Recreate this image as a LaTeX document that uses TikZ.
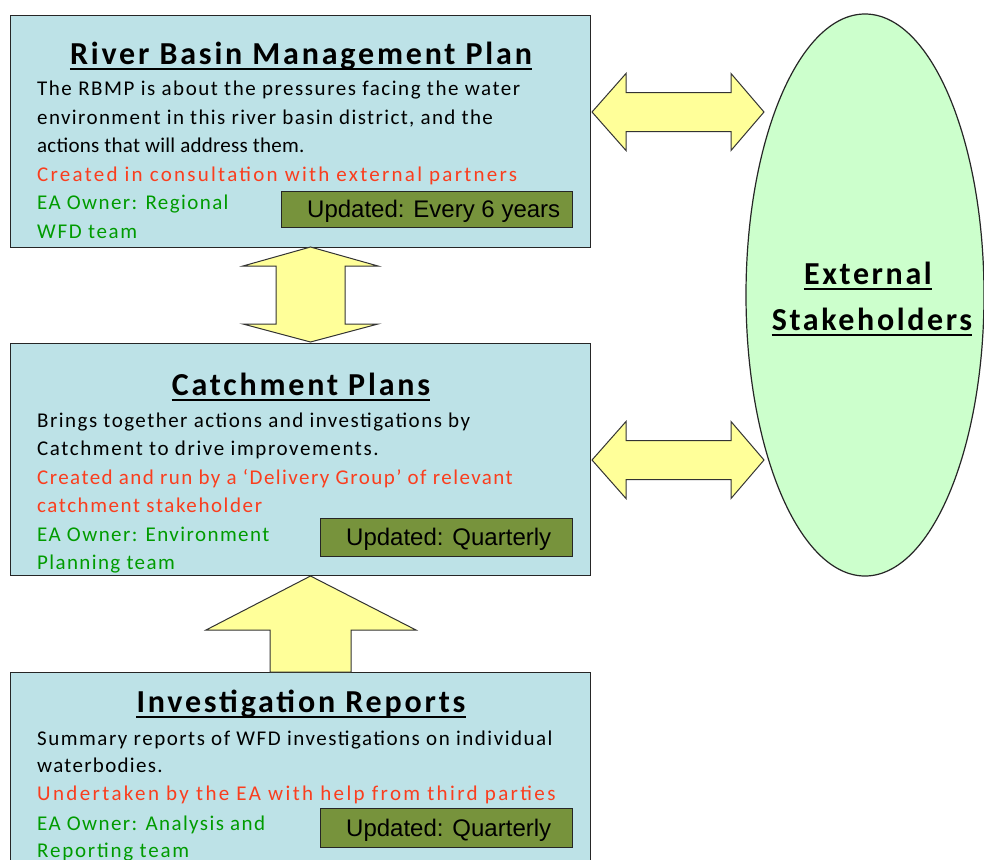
\documentclass[tikz,border=0pt]{standalone}
\usepackage{fontspec}
\setmainfont{Carlito}
\newfontfamily\arialfont{Liberation Sans}
\usetikzlibrary{shapes.geometric}
\definecolor{panelfill}{RGB}{189,226,231}
\definecolor{arrowfill}{RGB}{255,255,153}
\definecolor{ovalfill}{RGB}{204,255,204}
\definecolor{tagfill}{RGB}{119,147,60}
\definecolor{redtext}{RGB}{250,62,30}
\definecolor{greentext}{RGB}{0,155,0}
\tikzset{
  panel/.style={draw=black!85, line width=1.3pt, fill=panelfill, anchor=north west, inner sep=0},
  heading/.style={font={\fontsize{32}{38}\selectfont\bfseries\addfontfeature{LetterSpace=8.8}}, anchor=base, inner sep=0},
  body/.style={font={\fontsize{21}{25}\selectfont\addfontfeature{LetterSpace=#1}}, anchor=base west, inner sep=0},
  body/.default=7.3,
  note/.style={body=#1, text=redtext},
  note/.default=7.3,
  owner/.style={body=#1, text=greentext},
  owner/.default=7.3,
  tag/.style={draw=black!85, line width=1.3pt, fill=tagfill, anchor=north west, inner sep=0},
  tagtext/.style={font=\arialfont\fontsize{24}{28}\selectfont, anchor=base west, inner sep=0},
  blockarrow/.style={draw=black!80, line width=1pt, fill=arrowfill, line join=miter},
  uline/.style={line width=1.6pt},
  ovaltext/.style={font={\fontsize{32}{38}\selectfont\bfseries\addfontfeature{LetterSpace=8.2}}, anchor=base, inner sep=0}
}
\begin{document}
\begin{tikzpicture}[x=1pt,y=-1pt]
\clip (0,0) rectangle (984,859);
\fill[white] (0,0) rectangle (984,859);

% panels
\node[panel, minimum width=580pt, minimum height=232pt] (rbmp) at (10,15) {};
\node[panel, minimum width=580pt, minimum height=232pt] (cp) at (10,343) {};
\node[panel, minimum width=580pt, minimum height=220pt] (ir) at (10,672) {};

% stakeholder oval
\node[draw=black!85, line width=1.2pt, fill=ovalfill, ellipse, minimum width=238pt, minimum height=562pt, inner sep=0] (ext) at (865,295) {};
\node[ovaltext] (ext1) at (868,284) {External};
\node[ovaltext] (ext2) at (872,330) {Stakeholders};
\draw[uline] ([yshift=-5pt]ext1.base west) -- ([yshift=-5pt]ext1.base east);
\draw[uline] ([yshift=-5pt]ext2.base west) -- ([yshift=-5pt]ext2.base east);

% block arrows
\draw[blockarrow] (310.5,247) -- (378,266) -- (345,266) -- (345,324) -- (378,324)
  -- (310.5,342) -- (243,324) -- (276,324) -- (276,266) -- (243,266) -- cycle;
\draw[blockarrow] (592,112) -- (626,73.5) -- (626,92.5) -- (731,92.5) -- (731,73.5)
  -- (764,112) -- (731,150.5) -- (731,131.5) -- (626,131.5) -- (626,150.5) -- cycle;
\draw[blockarrow] (592,460) -- (626,421.5) -- (626,440.5) -- (731,440.5) -- (731,421.5)
  -- (764,460) -- (731,498.5) -- (731,479.5) -- (626,479.5) -- (626,498.5) -- cycle;
\draw[blockarrow] (310.5,576) -- (416,630) -- (351,630) -- (351,672) -- (270,672)
  -- (270,630) -- (206,630) -- cycle;

% River Basin Management Plan
\node[heading] (t1) at (301,64) {River Basin Management Plan};
\draw[uline] ([yshift=-5pt]t1.base west) -- ([yshift=-5pt]t1.base east);
\node[body] (a1) at (37,95) {The RBMP is about the pressures facing the water};
\node[body=6.6] (a2) at (37,124) {environment in this river basin district, and the};
\node[body=1.2] (a3) at (37,152) {actions that will address them.};
\node[note=10.8] (a4) at (37,181) {Created in consultation with external partners};
\node[owner=6.7] (a5) at (37,209) {EA Owner: Regional};
\node[owner=7.8] (a6) at (37,238) {WFD team};
\node[tag, minimum width=291pt, minimum height=36pt] (u1) at (281,191) {};
\node[tagtext] (u1t) at (307,217.5) {Updated: Every 6 years};

% Catchment Plans
\node[heading] (t2) at (301,395) {Catchment Plans};
\draw[uline] ([yshift=-5pt]t2.base west) -- ([yshift=-5pt]t2.base east);
\node[body=7] (b1) at (37,427) {Brings together actions and investigations by};
\node[body=7.6] (b2) at (37,455) {Catchment to drive improvements.};
\node[note=6.9] (b3) at (37,484) {Created and run by a ‘Delivery Group’ of relevant};
\node[note=7.5] (b4) at (37,512) {catchment stakeholder};
\node[owner=6.8] (b5) at (37,541) {EA Owner: Environment};
\node[owner=6.6] (b6) at (37,569) {Planning team};
\node[tag, minimum width=252pt, minimum height=38pt] (u2) at (320,518) {};
\node[tagtext] (u2t) at (346,545.5) {Updated: Quarterly};

% Investigation Reports
\node[heading] (t3) at (301,712) {Investigation Reports};
\draw[uline] ([yshift=-5pt]t3.base west) -- ([yshift=-5pt]t3.base east);
\node[body=7.2] (c1) at (37,745) {Summary reports of WFD investigations on individual};
\node[body=6.2] (c2) at (37,772) {waterbodies.};
\node[note=11.3] (c3) at (37,800) {Undertaken by the EA with help from third parties};
\node[owner=6.7] (c4) at (37,830) {EA Owner: Analysis and};
\node[owner=8.5] (c5) at (37,857) {Reporting team};
\node[tag, minimum width=252pt, minimum height=39pt] (u3) at (320,808) {};
\node[tagtext] (u3t) at (346,836) {Updated: Quarterly};
\end{tikzpicture}
\end{document}
